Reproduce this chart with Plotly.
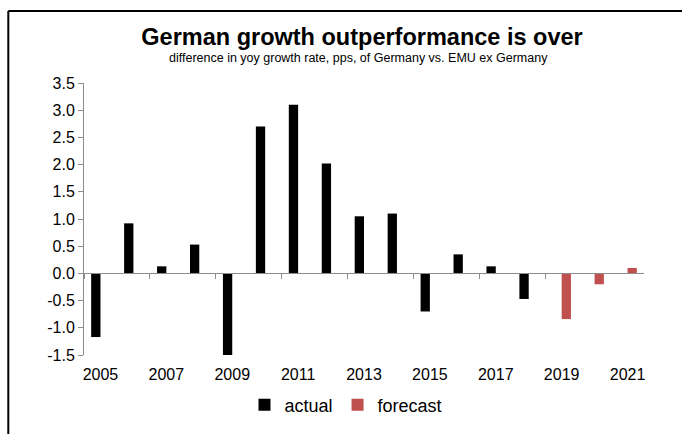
import plotly.graph_objects as go

# Annual difference in yoy growth (pps): Germany vs. EMU ex Germany
years = list(range(2005, 2022))
actual = [-1.17, 0.92, 0.13, 0.53, -1.52, 2.70, 3.10, 2.02, 1.05, 1.10,
          -0.70, 0.35, 0.13, -0.47, None, None, None]
forecast = [None] * 14 + [-0.84, -0.20, 0.10]

x_labels = [str(y) for y in years[::2]]
y_ticks = [-1.5, -1.0, -0.5, 0.0, 0.5, 1.0, 1.5, 2.0, 2.5, 3.0, 3.5]
y_labels = ["-1.5", "-1.0", "-0.5", "0.0", "0.5", "1.0", "1.5", "2.0", "2.5", "3.0", "3.5"]

FONT = "Arial, Liberation Sans, sans-serif"
AXIS_GREY = "#8c8c8c"

fig = go.Figure()
fig.add_trace(go.Bar(x=years, y=actual, name="actual",
                     marker=dict(color="#000000", line=dict(width=0))))
fig.add_trace(go.Bar(x=years, y=forecast, name="forecast",
                     marker=dict(color="#C0504D", line=dict(width=0))))

W, H = 683, 435
ML, MR, MT, MB = 84, 39, 83, 80
plot_w = W - ML - MR
plot_h = H - MT - MB


def px_x(px):
    return (px - ML) / plot_w


def px_y(py):
    return (H - MB - py) / plot_h


fig.update_layout(
    width=W, height=H, autosize=False,
    margin=dict(l=ML, r=MR, t=MT, b=MB, pad=0),
    paper_bgcolor="white", plot_bgcolor="white",
    font=dict(family=FONT, color="#000000", size=16),
    barmode="group", bargap=0.435, bargroupgap=0,
    title=dict(text="<b>German growth outperformance is over</b>",
               font=dict(size=23.5, family=FONT, color="#000000"),
               x=362 / W, xanchor="center", xref="container",
               y=1 - 37 / H, yanchor="middle", yref="container"),
    annotations=[dict(text="difference in yoy growth rate, pps, of Germany vs. EMU ex Germany",
                      xref="paper", yref="paper", x=px_x(358), y=px_y(58),
                      xanchor="center", yanchor="middle", showarrow=False,
                      font=dict(size=12.5, family=FONT, color="#000000"))],
    showlegend=True,
    legend=dict(orientation="h", x=px_x(346), xanchor="center",
                y=px_y(405), yanchor="middle",
                font=dict(size=18, family=FONT, color="#000000"),
                itemwidth=30, traceorder="normal", bgcolor="rgba(0,0,0,0)"),
    xaxis=dict(type="linear", range=[2004.5, 2021.5],
               anchor="free", position=1.5 / 5.0,
               showline=True, linecolor=AXIS_GREY, linewidth=1,
               showgrid=False, zeroline=False,
               tickmode="array", tickvals=years[::2], ticktext=x_labels,
               ticks="", ticklabelstandoff=86,
               tickfont=dict(size=16, family=FONT, color="#000000"),
               minor=dict(tickvals=[y - 0.5 for y in years[::2][:-1]],
                          ticks="outside", ticklen=5, tickwidth=1,
                          tickcolor=AXIS_GREY, showgrid=False),
               automargin=False, fixedrange=True),
    yaxis=dict(range=[-1.5, 3.5], showline=True, linecolor=AXIS_GREY, linewidth=1,
               showgrid=False, zeroline=False,
               tickmode="array", tickvals=y_ticks, ticktext=y_labels,
               ticks="outside", ticklen=5, tickwidth=1, tickcolor=AXIS_GREY,
               tickfont=dict(size=16, family=FONT, color="#000000"),
               automargin=False, fixedrange=True),
    shapes=[
        # chart frame: left and top edges
        dict(type="line", xref="paper", yref="paper",
             x0=px_x(8.3), x1=px_x(8.3), y0=px_y(H - 1), y1=px_y(11),
             line=dict(color="#000000", width=2)),
        dict(type="line", xref="paper", yref="paper",
             x0=px_x(8.3), x1=px_x(W - 1), y0=px_y(11), y1=px_y(11),
             line=dict(color="#000000", width=2)),
    ],
)

fig.write_html("out.html")
